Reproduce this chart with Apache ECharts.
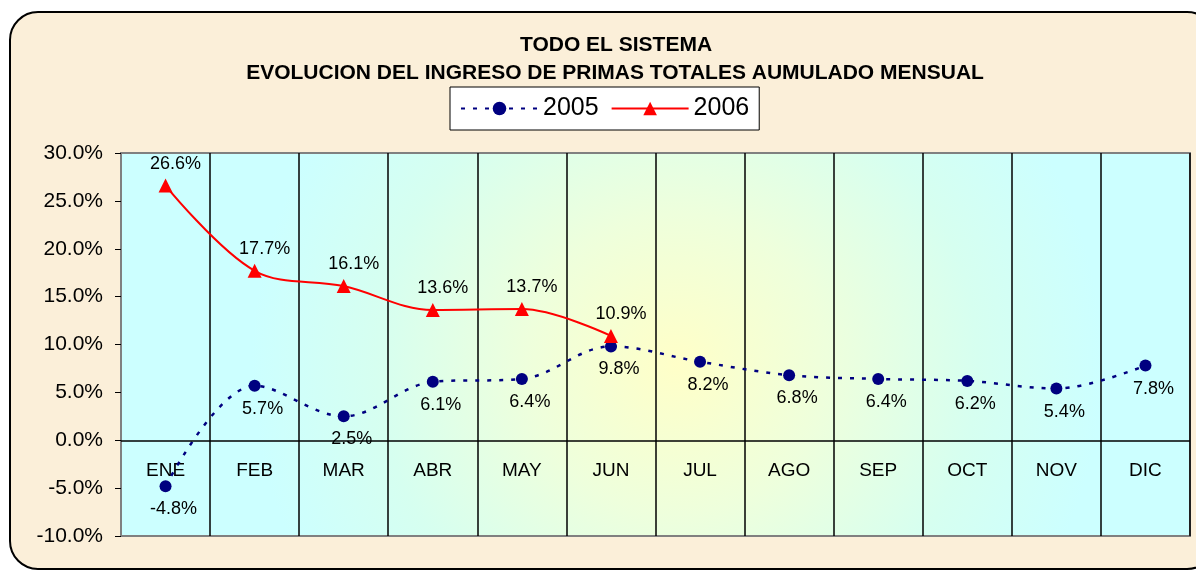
<!DOCTYPE html>
<html><head><meta charset="utf-8">
<script src="https://cdn.jsdelivr.net/npm/echarts@6/dist/echarts.min.js"></script>
<style>html,body{margin:0;padding:0;background:#fff}#c{width:1196px;height:573px}</style>
</head><body><div id="c"></div>
<script>
const categories = ['ENE','FEB','MAR','ABR','MAY','JUN','JUL','AGO','SEP','OCT','NOV','DIC'];
const serie2005 = [-4.8, 5.7, 2.5, 6.1, 6.4, 9.8, 8.2, 6.8, 6.4, 6.2, 5.4, 7.8];
const serie2006 = [26.6, 17.7, 16.1, 13.6, 13.7, 10.9];
const yTicks = {min: -10, max: 30, interval: 5};
const titles = ['TODO EL SISTEMA', 'EVOLUCION DEL INGRESO DE PRIMAS TOTALES AUMULADO MENSUAL'];

const chart = echarts.init(document.getElementById('c'));
const font = 'Liberation Sans, Arial, sans-serif';
const pct = p => p.value.toFixed(1) + '%';
chart.setOption({
  backgroundColor: '#ffffff',
  animation: false,
  graphic: [{
    type: 'rect', z: -10, silent: true,
    shape: {x: 10, y: 12, width: 1205, height: 557, r: 28},
    style: {fill: '#fbefd9', stroke: '#000', lineWidth: 2}
  }],
  title: [{
    text: titles[0], left: 611, top: 30, textAlign: 'center',
    textStyle: {fontFamily: font, fontSize: 21, fontWeight: 'bold', color: '#000'}
  },{
    text: titles[1], left: 610, top: 58, textAlign: 'center',
    textStyle: {fontFamily: font, fontSize: 21, fontWeight: 'bold', color: '#000'}
  }],
  legend: {
    left: 450, top: 87,
    backgroundColor: '#fff', borderColor: '#000', borderWidth: 1,
    padding: [9, 10, 9, 10], itemGap: 12, itemWidth: 77, itemHeight: 17,
    textStyle: {fontFamily: font, fontSize: 25, color: '#000'},
    data: ['2005', '2006']
  },
  grid: {
    left: 121, right: 6, top: 153, bottom: 37, show: true,
    borderColor: '#808080', borderWidth: 2,
    backgroundColor: {type:'radial', x:0.52, y:0.55, r:1.3, colorStops:[
      {offset:0, color:'#ffffc8'}, {offset:0.3, color:'#eeffdc'}, {offset:0.6, color:'#d6fff0'}, {offset:0.85, color:'#ccffff'}, {offset:1, color:'#ccffff'}]}
  },
  xAxis: {
    type: 'category', data: categories, boundaryGap: true,
    axisLine: {show: false, onZero: false},
    axisTick: {show: false},
    splitLine: {show: true, lineStyle: {color: '#000', width: 1.5}},
    axisLabel: {inside: true, margin: 56, fontFamily: font, fontSize: 19, color: '#000'}
  },
  yAxis: {
    type: 'value', min: yTicks.min, max: yTicks.max, interval: yTicks.interval,
    axisLine: {show: true, lineStyle: {color: '#808080', width: 2}},
    axisTick: {show: true, length: 6, lineStyle: {color: '#000'}},
    splitLine: {show: false},
    axisLabel: {margin: 18, fontFamily: font, fontSize: 21, color: '#000',
      formatter: v => v.toFixed(1) + '%'}
  },
  series: [{
    name: '2005', type: 'line', data: serie2005, smooth: 0.35,
    symbol: 'circle', symbolSize: 12,
    itemStyle: {color: '#000080'},
    lineStyle: {color: '#000080', width: 2.5, type: [4, 8]},
    label: {show: true, position: 'bottom', distance: 8, offset: [8, 0], fontFamily: font, fontSize: 18, color: '#000', formatter: pct},
    markLine: {silent: true, symbol: 'none', label: {show: false},
      lineStyle: {color: '#000', type: 'solid', width: 1.5}, data: [{yAxis: 0}]}
  },{
    name: '2006', type: 'line', data: serie2006, smooth: 0.35,
    symbol: 'triangle', symbolSize: 14,
    itemStyle: {color: '#ff0000'},
    lineStyle: {color: '#ff0000', width: 2},
    label: {show: true, position: 'top', distance: 6, offset: [10, 0], fontFamily: font, fontSize: 18, color: '#000', formatter: pct}
  }]
});
</script></body></html>
